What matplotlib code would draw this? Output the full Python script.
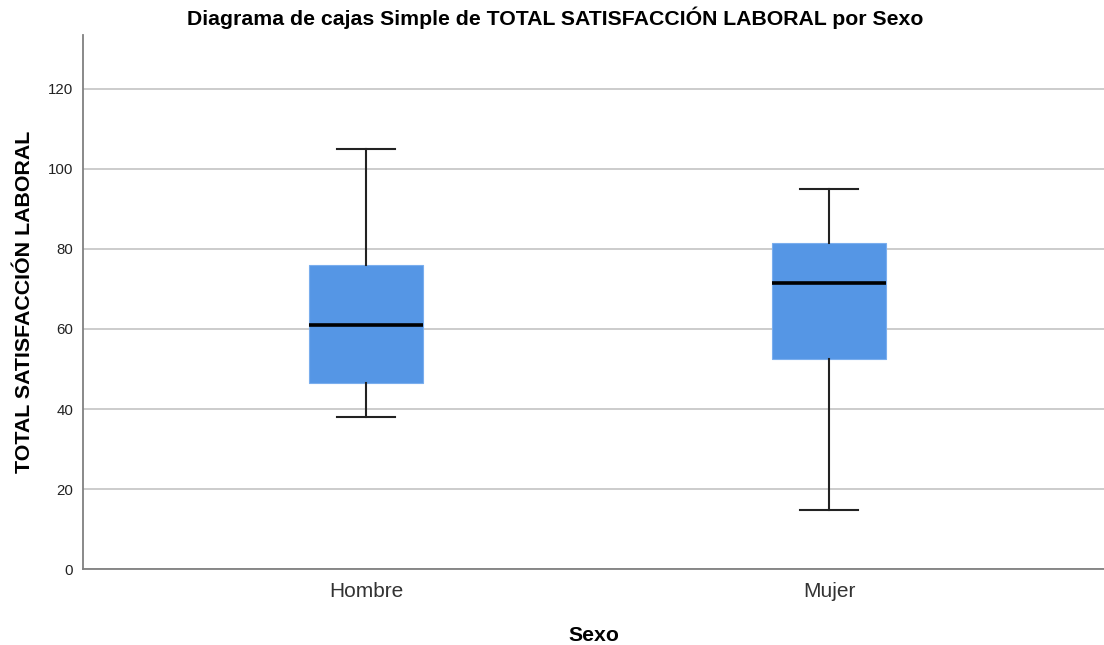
import matplotlib.pyplot as plt

plt.rcParams['font.family'] = ['Liberation Sans', 'DejaVu Sans']

categorias = ['Hombre', 'Mujer']
minimos = [38.1, 14.9]
q1 = [46.4, 52.5]
medianas = [61.0, 71.5]
q3 = [76.0, 81.5]
maximos = [105.0, 95.0]
yticks = [0, 20, 40, 60, 80, 100, 120]


def main():
    fig = plt.figure(figsize=(11.04, 6.45), dpi=100)
    ax = fig.add_axes([0.0752, 0.1174, 0.9248, 0.8283])

    stats = []
    for i, nombre in enumerate(categorias):
        stats.append({'label': nombre, 'whislo': minimos[i], 'q1': q1[i],
                      'med': medianas[i], 'q3': q3[i], 'whishi': maximos[i],
                      'fliers': []})

    ax.bxp(stats, positions=range(len(categorias)), widths=0.248,
           patch_artist=True, showfliers=False,
           boxprops=dict(facecolor='#5596e5', edgecolor='#7aaeee', linewidth=0.8),
           medianprops=dict(color='black', linewidth=2.6),
           whiskerprops=dict(color='#222222', linewidth=1.5),
           capprops=dict(color='#222222', linewidth=1.5),
           capwidths=0.125, zorder=3)

    ax.set_xlim(-0.611, 1.594)
    ax.set_ylim(0, 133.4)
    ax.set_yticks(yticks)
    ax.yaxis.grid(True, color='#c8c8c8', linewidth=1.3, zorder=0)
    ax.set_axisbelow(True)
    for s in ['top', 'right']:
        ax.spines[s].set_visible(False)
    for s in ['left', 'bottom']:
        ax.spines[s].set_color('#808080')
        ax.spines[s].set_linewidth(1.3)
    ax.tick_params(axis='both', length=0)
    ax.tick_params(axis='y', labelsize=10.8, labelcolor='#222222', pad=7)
    ax.tick_params(axis='x', labelsize=15, labelcolor='#333333', pad=9)

    ax.set_xlabel('Sexo', fontsize=15.3, fontweight='bold', labelpad=18)
    ax.set_ylabel('TOTAL SATISFACCIÓN LABORAL', fontsize=15.4,
                  fontweight='bold', labelpad=10)
    fig.text(0.503, 0.972, 'Diagrama de cajas Simple de TOTAL SATISFACCIÓN LABORAL por Sexo',
             ha='center', va='center', fontsize=15.3, fontweight='bold')

    fig.savefig('out.png', dpi=100)


if __name__ == '__main__':
    main()
